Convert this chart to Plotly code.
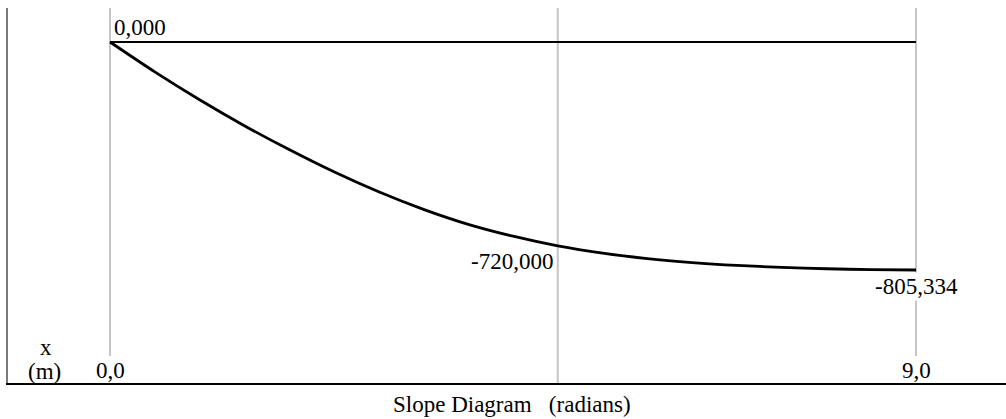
import plotly.graph_objects as go

# Slope along the beam, x in metres, slope in radians
x_m = [0.0, 0.5, 1.0, 1.5, 2.0, 2.5, 3.0, 3.5, 4.0, 4.5, 5.0,
       5.5, 6.0, 6.5, 7.0, 7.5, 8.0, 8.5, 9.0]
slope = [0.0, -105.5, -204, -295.5, -380, -458.5, -529, -591, -644, -686, -720.0,
         -745.8, -765, -779, -789, -796, -801, -804, -805.334]

# Stations marked with a vertical guide line
stations = [0.0, 5.0, 9.0]
station_labels = ["0,0", "9,0"]
station_label_x = [0.0, 9.0]

# Values written on the diagram
value_points = [(0.0, 0.0, "0,000"), (5.0, -720.0, "-720,000"), (9.0, -805.334, "-805,334")]

# Axis extents (data units)
X_RANGE = [-1.139, 10.005]
Y_RANGE = [-1204.5, 120.1]
GUIDE_BOTTOM_END = -1109.0  # end stations stop above their labels

FONT = "Liberation Serif, Times New Roman, serif"
FONT_SIZE = 23
GRID = "#c6c6c6"

fig = go.Figure()

# vertical guide lines
for s in stations:
    bottom = Y_RANGE[0] if s not in (stations[0], stations[-1]) else GUIDE_BOTTOM_END
    fig.add_trace(go.Scatter(x=[s, s], y=[Y_RANGE[1], bottom], mode="lines",
                             line=dict(color=GRID, width=2), hoverinfo="skip"))

# zero reference line
fig.add_trace(go.Scatter(x=[x_m[0], x_m[-1]], y=[0, 0], mode="lines",
                         line=dict(color="black", width=2), hoverinfo="skip"))

# slope curve
fig.add_trace(go.Scatter(x=x_m, y=slope, mode="lines",
                         line=dict(color="black", width=2.8, shape="spline", smoothing=0.8),
                         hoverinfo="skip"))

ann = []
# value labels
px, py, pt = value_points[0]
ann.append(dict(x=px, y=py, text=pt, xanchor="left", yanchor="middle",
                xshift=2, yshift=15))
px, py, pt = value_points[1]
ann.append(dict(x=px, y=py, text=pt, xanchor="right", yanchor="middle",
                xshift=-3, yshift=-16))
px, py, pt = value_points[2]
ann.append(dict(x=px, y=py, text=pt, xanchor="center", yanchor="middle",
                xshift=0, yshift=-17, bgcolor="white"))

# station labels just above the axis
for sx, sl in zip(station_label_x, station_labels):
    ann.append(dict(x=sx, y=0, yref="paper", text=sl, xanchor="center",
                    yanchor="middle", yshift=13))

# axis name
ann.append(dict(x=0.038, xref="paper", y=0, yref="paper", text="x",
                xanchor="center", yanchor="middle", yshift=36))
ann.append(dict(x=0.037, xref="paper", y=0, yref="paper", text="(m)",
                xanchor="center", yanchor="middle", yshift=12))

# diagram title
ann.append(dict(x=0.505, xref="paper", y=0, yref="paper",
                text="Slope Diagram &nbsp;&nbsp;(radians)",
                xanchor="center", yanchor="middle", yshift=-21))

for a in ann:
    a.setdefault("xref", "x")
    a.setdefault("yref", "y")
    a["showarrow"] = False
    a["font"] = dict(family=FONT, size=FONT_SIZE, color="black")

fig.update_layout(
    width=1006, height=419,
    margin=dict(l=8, r=0, t=8, b=36),
    paper_bgcolor="white", plot_bgcolor="white",
    showlegend=False,
    annotations=ann,
    xaxis=dict(range=X_RANGE, showgrid=False, zeroline=False, showticklabels=False,
               ticks="", showline=True, linecolor="black", linewidth=1.5),
    yaxis=dict(range=Y_RANGE, showgrid=False, zeroline=False, showticklabels=False,
               ticks="", showline=True, linecolor="#7a7a7a", linewidth=2),
)

fig.write_html("out.html", config=dict(displayModeBar=False))
